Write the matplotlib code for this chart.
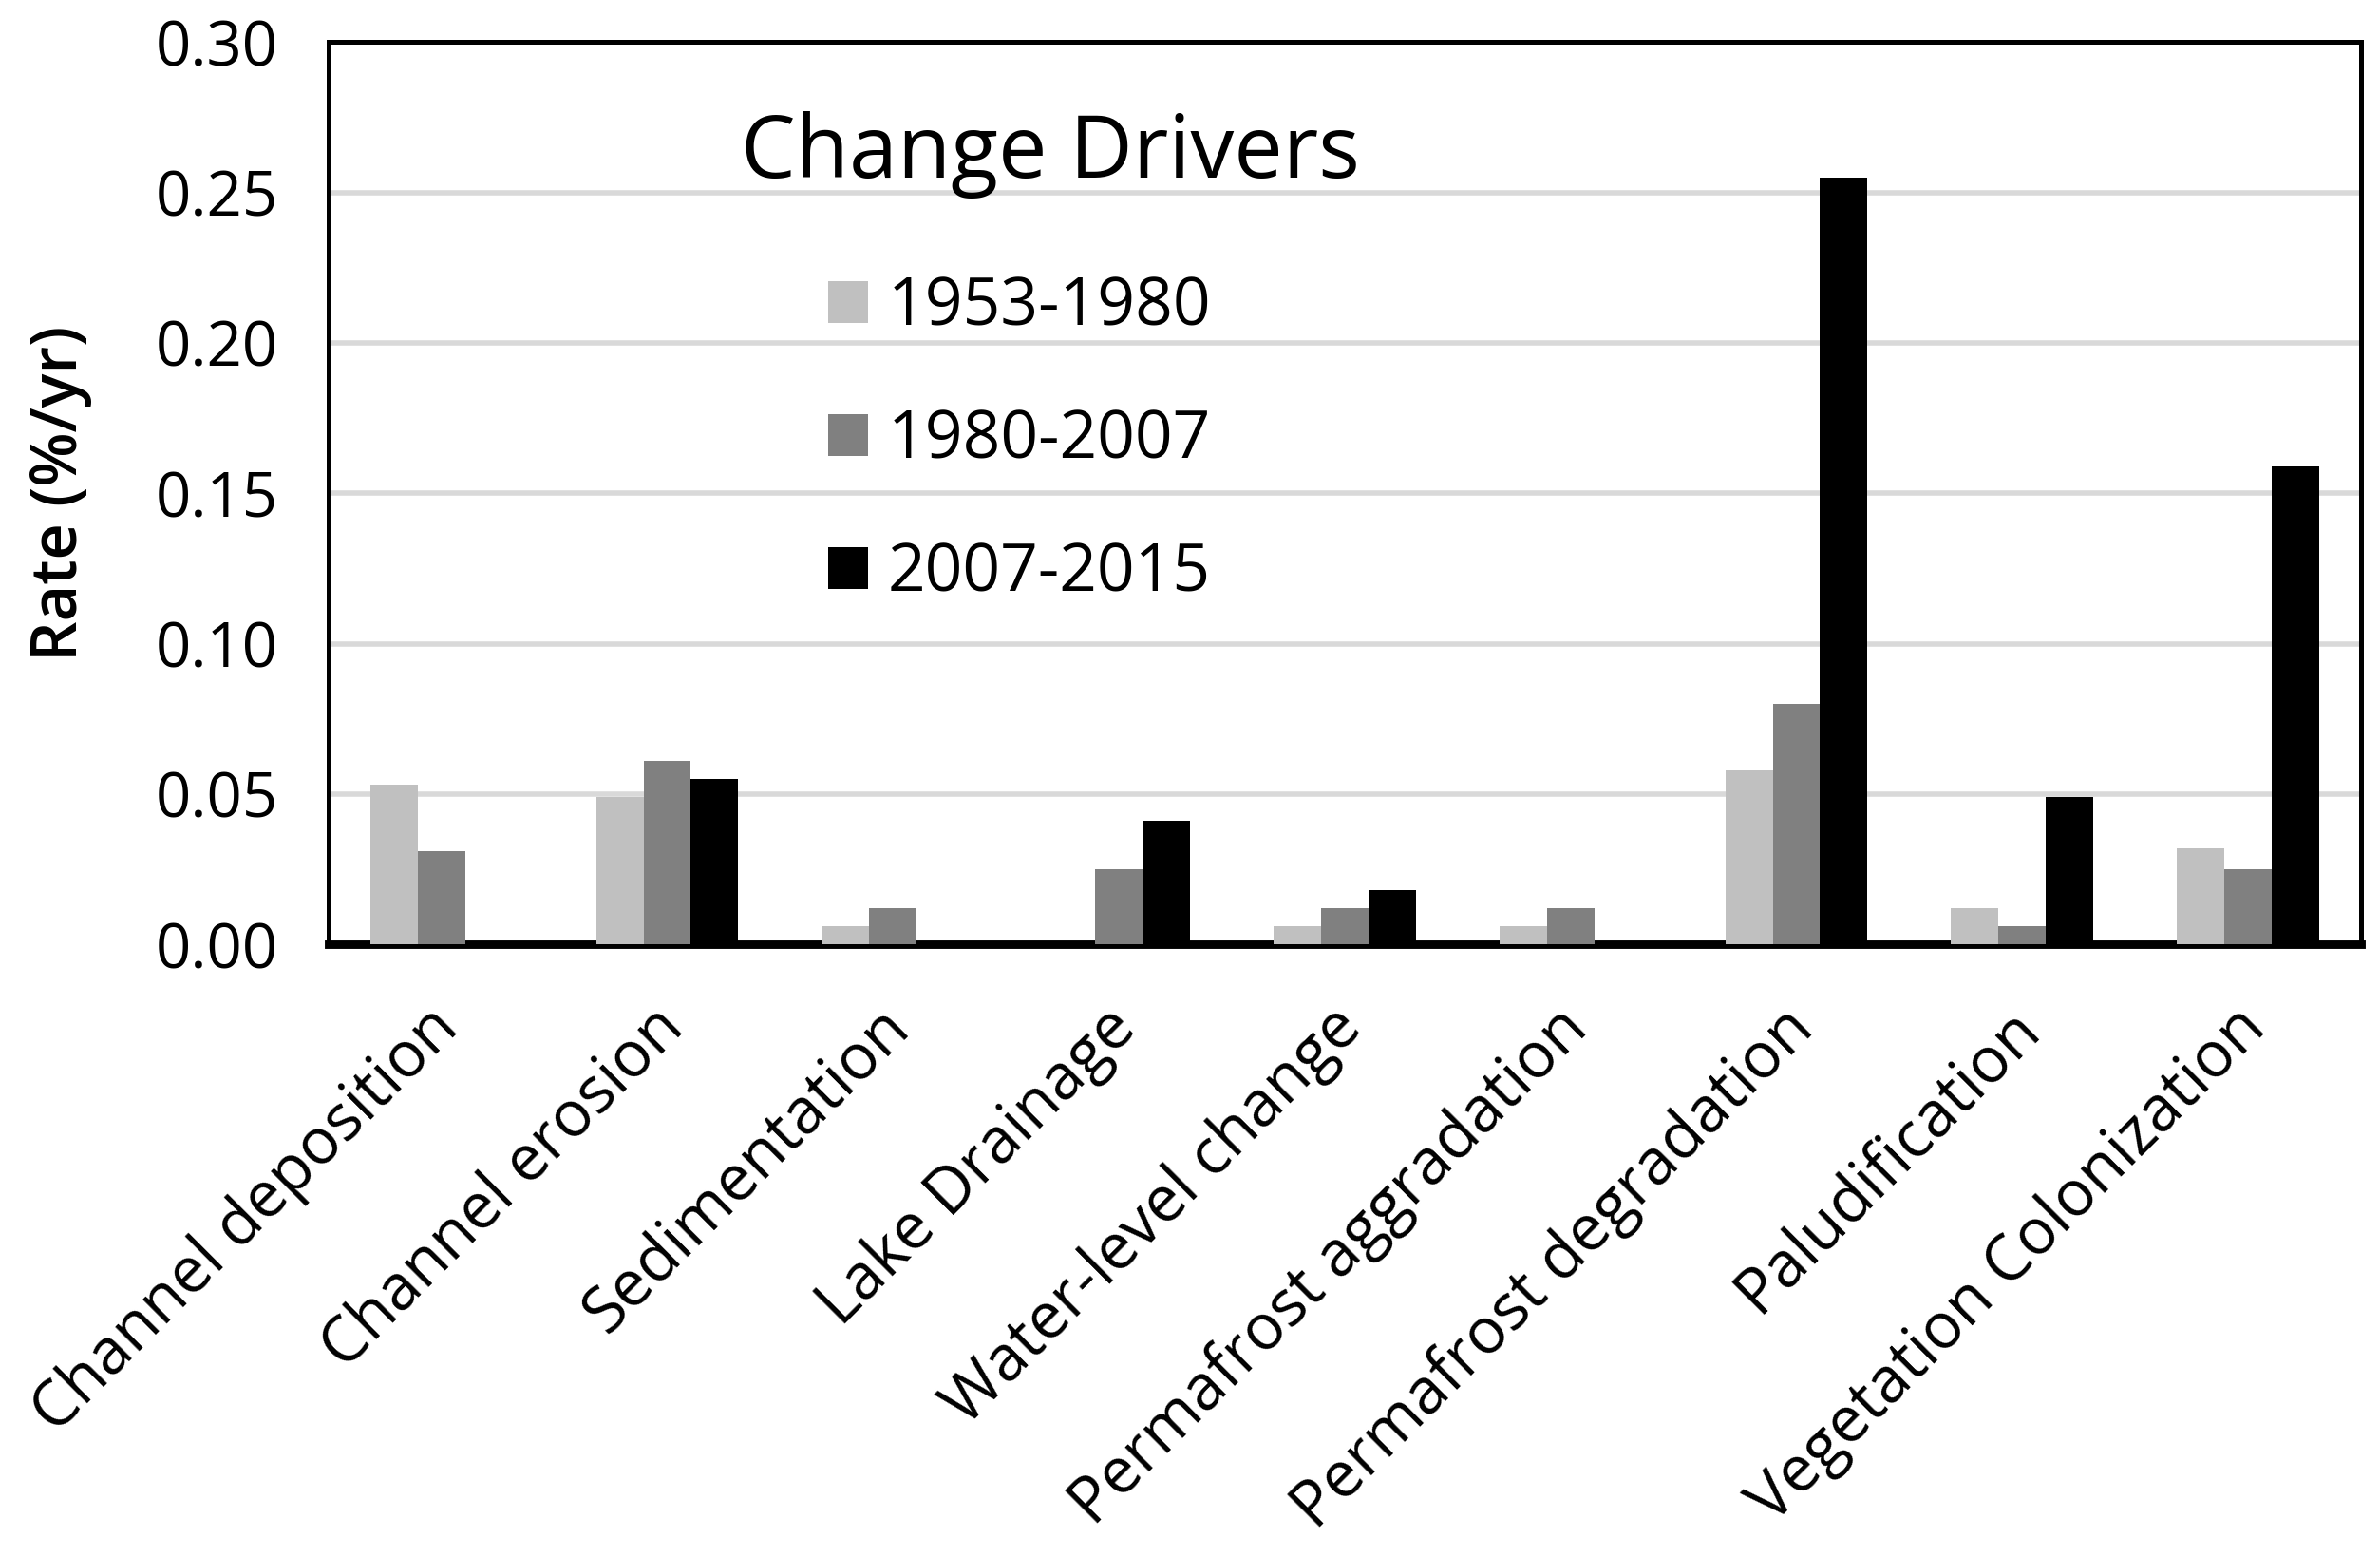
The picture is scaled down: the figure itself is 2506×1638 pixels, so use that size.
import matplotlib
matplotlib.use("Agg")
import matplotlib.pyplot as plt
import matplotlib.transforms as mtransforms
import numpy as np
from matplotlib.ticker import FormatStrFormatter

categories = ["Channel deposition", "Channel erosion", "Sedimentation", "Lake Drainage",
              "Water-level change", "Permafrost aggradation", "Permafrost degradation",
              "Paludification", "Vegetation Colonization"]
series_names = ["1953-1980", "1980-2007", "2007-2015"]
v1953_1980 = [0.053, 0.049, 0.006, 0.000, 0.006, 0.006, 0.058, 0.012, 0.032]
v1980_2007 = [0.031, 0.061, 0.012, 0.025, 0.012, 0.012, 0.080, 0.006, 0.025]
v2007_2015 = [0.000, 0.055, 0.000, 0.041, 0.018, 0.000, 0.255, 0.049, 0.159]
colors = ["#c0c0c0", "#808080", "#000000"]

plt.rcParams['font.family'] = ['Open Sans', 'DejaVu Sans']

fig = plt.figure(figsize=(12.53, 8.19), dpi=200)
ax = fig.add_axes([0.138, 0.393, 0.854, 0.580])

x = np.arange(len(categories))
w = 0.21
for i, (vals, name, c) in enumerate(zip([v1953_1980, v1980_2007, v2007_2015], series_names, colors)):
    ax.bar(x + (i - 1) * w, vals, width=w, color=c, label=name, zorder=3)

ax.set_xlim(-0.5, len(categories) - 0.5)
ax.set_ylim(0, 0.30)
ax.set_yticks(np.arange(0, 0.301, 0.05))
ax.yaxis.set_major_formatter(FormatStrFormatter('%.2f'))
ax.grid(axis='y', color='#d9d9d9', linewidth=2.0, zorder=0)
ax.set_axisbelow(True)
ax.tick_params(axis='y', length=0, pad=19, labelsize=23.5)
ax.tick_params(axis='x', length=0, pad=18, labelsize=24)
ax.set_xticks(x)
ax.set_xticklabels(categories, rotation=45, ha='right', rotation_mode='anchor')
offset = mtransforms.ScaledTranslation(-0.08, -0.02, fig.dpi_scale_trans)
for lbl in ax.get_xticklabels():
    lbl.set_transform(lbl.get_transform() + offset)
for s in ['left', 'top', 'right']:
    ax.spines[s].set_linewidth(1.8)
    ax.spines[s].set_color('black')
ax.spines['bottom'].set_linewidth(3.2)
ax.spines['bottom'].set_color('black')
ax.set_ylabel("Rate (%/yr)", fontsize=24, fontweight='semibold', labelpad=24)

ax.text(0.203, 0.850, "Change Drivers", transform=ax.transAxes, fontsize=33,
        ha='left', va='baseline')
ax.legend(loc='upper left', bbox_to_anchor=(0.2457, 0.742), frameon=False,
          fontsize=25, handlelength=0.61, handleheight=0.61, handletextpad=0.3,
          labelspacing=1.01, borderpad=0, borderaxespad=0)

fig.savefig("out.png", dpi=200)
